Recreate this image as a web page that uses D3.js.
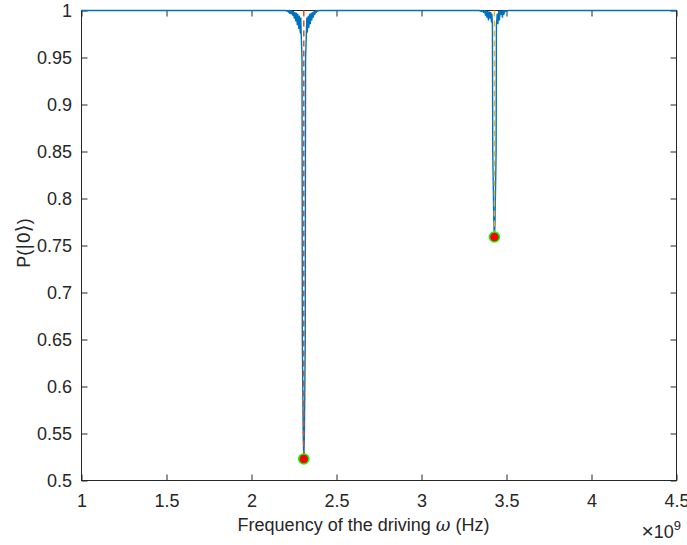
<!DOCTYPE html>
<html>
<head>
<meta charset="utf-8">
<script src="https://cdn.jsdelivr.net/npm/d3@7"></script>
<style>
  html, body { margin: 0; padding: 0; background: #fff; }
  svg { display: block; }
  text { font-family: "Liberation Sans", Arial, Helvetica, sans-serif; fill: #262626; }
</style>
</head>
<body>
<svg id="chart" width="687" height="545"></svg>
<script>
// Driving frequency in units of 1e9 Hz, and ground-state population P(|0>)
const traceFreq = [
  1.0000, 2.2000,
  2.2076, 2.2105, 2.2135, 2.2164, 2.2194, 2.2223, 2.2253, 2.2282, 2.2341, 2.2370,
  2.2429, 2.2458, 2.2517, 2.2547, 2.2606, 2.2635, 2.2694, 2.2723, 2.2782, 2.2811,
  2.2870, 2.2900, 2.2929, 2.2970, 2.2976, 2.2982, 2.2990, 2.3040, 2.3076, 2.3112,
  2.3162, 2.3170, 2.3176, 2.3182,
  2.3223, 2.3252, 2.3282, 2.3341, 2.3370, 2.3429, 2.3458, 2.3517, 2.3546, 2.3605,
  2.3634, 2.3693, 2.3722, 2.3781, 2.3811, 2.3870, 2.3900, 2.4000,
  3.3400,
  3.3525, 3.3584, 3.3643, 3.3702, 3.3761, 3.3805, 3.3849, 3.3893, 3.3937, 3.3981,
  3.4025, 3.4070, 3.4114, 3.4143, 3.4172, 3.4178, 3.4184, 3.4192, 3.4255, 3.4290,
  3.4325, 3.4388, 3.4396, 3.4402, 3.4408,
  3.4452, 3.4496, 3.4540, 3.4584, 3.4628, 3.4672, 3.4716,
  3.4761, 3.4805, 3.4849, 3.4893, 3.4937, 3.5100,
  4.5000
];
const traceP = [
  1.0000, 1.0000,
  0.9995, 1.0000, 0.9990, 1.0000, 0.9980, 1.0000, 0.9970, 0.9998, 0.9965, 0.9995,
  0.9950, 0.9990, 0.9920, 0.9980, 0.9890, 0.9970, 0.9850, 0.9960, 0.9810, 0.9940,
  0.9760, 0.9920, 0.9720, 0.9500, 0.9000, 0.8000, 0.6500, 0.5500, 0.5230, 0.5500,
  0.6500, 0.8000, 0.9000, 0.9500,
  0.9720, 0.9920, 0.9770, 0.9940, 0.9820, 0.9960, 0.9860, 0.9970, 0.9900, 0.9980,
  0.9930, 0.9990, 0.9960, 1.0000, 0.9980, 1.0000, 0.9995, 1.0000,
  1.0000,
  0.9990, 1.0000, 0.9980, 1.0000, 0.9950, 0.9995, 0.9930, 0.9990, 0.9900, 0.9985,
  0.9920, 0.9980, 0.9880, 0.9960, 0.9840, 0.9500, 0.9000, 0.8500, 0.7750, 0.7590,
  0.7750, 0.8500, 0.9000, 0.9500, 0.9840,
  0.9960, 0.9860, 0.9990, 0.9900, 0.9995, 0.9960, 0.9990,
  0.9930, 1.0000, 0.9960, 1.0000, 0.9990, 1.0000,
  1.0000
];

// Resonance minima (frequency in 1e9 Hz, population) and the dashed marker colours
const dipFreq = [2.3076, 3.4290];
const dipP = [0.523, 0.759];
const dipColors = ["#D95319", "#EDB120"];

const xTicks = [1, 1.5, 2, 2.5, 3, 3.5, 4, 4.5];
const yTicks = [0.5, 0.55, 0.6, 0.65, 0.7, 0.75, 0.8, 0.85, 0.9, 0.95, 1];
const xDomain = [1, 4.5];
const yDomain = [0.5, 1];

const svg = d3.select("#chart");
const plot = { left: 81.5, right: 676.5, top: 10.5, bottom: 480.5 };
const axisColor = "#262626";
const fontSize = 18;
const tickLen = 6;

const x = d3.scaleLinear().domain(xDomain).range([plot.left, plot.right]);
const y = d3.scaleLinear().domain(yDomain).range([plot.bottom, plot.top]);

// Axes: bottom and left carry labels, top and right mirror the ticks
const fmt = d => String(+d.toFixed(2));
function styleAxis(g) {
  g.select(".domain").remove();
  g.selectAll(".tick line").attr("stroke", axisColor).attr("stroke-width", 1);
  g.selectAll(".tick text").attr("font-size", fontSize).attr("fill", axisColor)
    .style("font-family", "'Liberation Sans', Arial, sans-serif");
}
svg.append("g").attr("transform", `translate(0,${plot.bottom})`)
  .call(d3.axisBottom(x).tickValues(xTicks).tickFormat(fmt).tickSizeInner(-tickLen).tickSizeOuter(0).tickPadding(14))
  .call(styleAxis);
svg.append("g").attr("transform", `translate(0,${plot.top})`)
  .call(d3.axisTop(x).tickValues(xTicks).tickFormat("").tickSizeInner(-tickLen).tickSizeOuter(0))
  .call(styleAxis);
svg.append("g").attr("transform", `translate(${plot.left},0)`)
  .call(d3.axisLeft(y).tickValues(yTicks).tickFormat(fmt).tickSizeInner(-tickLen).tickSizeOuter(0).tickPadding(9.5))
  .call(styleAxis);
svg.append("g").attr("transform", `translate(${plot.right},0)`)
  .call(d3.axisRight(y).tickValues(yTicks).tickFormat("").tickSizeInner(-tickLen).tickSizeOuter(0))
  .call(styleAxis);

// Box around the plot area
svg.append("rect")
  .attr("x", plot.left).attr("y", plot.top)
  .attr("width", plot.right - plot.left).attr("height", plot.bottom - plot.top)
  .attr("fill", "none").attr("stroke", axisColor).attr("stroke-width", 1);

// Simulated population trace
const traceData = traceFreq.map((f, i) => [f, traceP[i]]);
svg.append("path")
  .datum(traceData)
  .attr("fill", "none")
  .attr("stroke", "#0072BD")
  .attr("stroke-width", 1.4)
  .attr("stroke-linejoin", "round")
  .attr("d", d3.line().x(d => x(d[0])).y(d => y(d[1])));

// Dashed guides from P = 1 down to each resonance minimum
dipFreq.forEach((f, i) => {
  svg.append("path")
    .datum([[f, yDomain[1]], [f, dipP[i]]])
    .attr("fill", "none")
    .attr("stroke", dipColors[i])
    .attr("stroke-width", 1.5)
    .attr("stroke-dasharray", "6,4")
    .attr("d", d3.line().x(d => x(d[0])).y(d => y(d[1])));
});

// Minimum markers
svg.selectAll("circle.dip")
  .data(dipFreq.map((f, i) => [f, dipP[i]]))
  .join("circle")
  .attr("class", "dip")
  .attr("cx", d => x(d[0])).attr("cy", d => y(d[1]))
  .attr("r", 5)
  .attr("fill", "#FF0000")
  .attr("stroke", "#00FF00")
  .attr("stroke-width", 1.5);

// Axis titles
const xl = svg.append("text")
  .attr("x", 363.5).attr("y", 531)
  .attr("text-anchor", "middle").attr("font-size", fontSize);
xl.append("tspan").text("Frequency of the driving ");
xl.append("tspan").text("ω").style("font-family", "'DejaVu Serif', 'Liberation Serif', serif").attr("font-style", "italic");
xl.append("tspan").text(" (Hz)");

const yl = svg.append("text")
  .attr("transform", `translate(30,243) rotate(-90)`)
  .attr("text-anchor", "middle").attr("font-size", fontSize);
yl.append("tspan").text("P(");
yl.append("tspan").text("|0").style("font-family", "'DejaVu Sans', sans-serif");
yl.append("tspan").text("⟩").style("font-family", "'DejaVu Sans', sans-serif").attr("font-size", 20);
yl.append("tspan").text(")");

// Exponent multiplier for the frequency axis
const ex = svg.append("text")
  .attr("x", 681).attr("y", 538).attr("text-anchor", "end");
ex.append("tspan").text("×").attr("font-size", 21);
ex.append("tspan").text("10").attr("font-size", fontSize);
ex.append("tspan").text("9").attr("font-size", 13).attr("dy", -8);
</script>
</body>
</html>
